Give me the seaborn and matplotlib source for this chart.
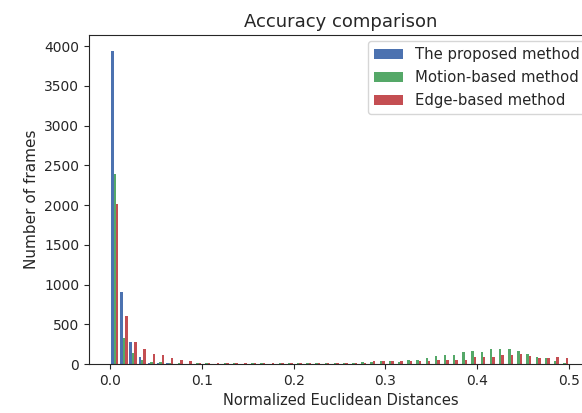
import numpy as np
import pandas as pd
import seaborn as sns
import matplotlib
matplotlib.use("Agg")
import matplotlib.pyplot as plt

# bin centres of the normalized euclidean distance histogram (bin width 0.01)
bin_centri = np.round(np.arange(50) * 0.01 + 0.005, 3)

metodi = ["The proposed method", "Motion-based method", "Edge-based method"]
colori = ["#4C72B0", "#55A868", "#C44E52"]

# frame counts per bin
conteggi_proposed = [3943, 907, 282, 85, 15, 18, 15, 0, 0, 0,
                     0, 0, 0, 0, 0, 0, 0, 0, 0, 0,
                     0, 0, 0, 0, 0, 0, 0, 0, 0, 0,
                     0, 0, 0, 0, 0, 0, 0, 0, 0, 0,
                     0, 0, 0, 0, 0, 0, 0, 0, 0, 0]
conteggi_motion = [2395, 330, 142, 46, 30, 21, 17, 8, 6, 8,
                   7, 6, 8, 7, 6, 8, 7, 6, 9, 8,
                   10, 14, 15, 17, 16, 18, 17, 20, 25, 38,
                   38, 30, 55, 55, 76, 95, 114, 114, 150, 168,
                   150, 189, 189, 189, 168, 130, 92, 74, 40, 17]
conteggi_edge = [2016, 605, 280, 185, 125, 110, 70, 48, 32, 17,
                 13, 17, 15, 18, 16, 17, 14, 18, 17, 16,
                 15, 14, 17, 16, 15, 17, 16, 18, 42, 38,
                 38, 38, 38, 34, 38, 55, 55, 52, 52, 92,
                 92, 85, 115, 115, 130, 105, 74, 74, 92, 74]

# dataframe in formato lungo per seaborn
df = pd.concat([
    pd.DataFrame({"distanza": bin_centri, "frames": conteggi, "metodo": nome})
    for nome, conteggi in zip(metodi, [conteggi_proposed, conteggi_motion, conteggi_edge])
], ignore_index=True)

sns.set_style("ticks")
plt.rcParams["font.family"] = ["DejaVu Sans"]

fig = plt.figure(figsize=(5.82, 4.13), dpi=100)
ax = fig.add_axes([0.153, 0.1186, 0.864, 0.7964])

sns.histplot(data=df, x="distanza", weights="frames", hue="metodo",
             hue_order=metodi, palette=colori, bins=50, binrange=(0, 0.5),
             multiple="dodge", shrink=0.8, alpha=1, linewidth=0, ax=ax)

ax.set_xlim(-0.023, 0.525)
ax.set_xticks([0.0, 0.1, 0.2, 0.3, 0.4, 0.5])
ax.set_yticks(range(0, 4001, 500))
ax.set_title("Accuracy comparison", fontsize=13)
ax.set_xlabel("Normalized Euclidean Distances", fontsize=10.5)
ax.set_ylabel("Number of frames", fontsize=11)
ax.tick_params(labelsize=10)
sns.move_legend(ax, "upper right", title=None, fontsize=10.7,
                labelspacing=0.55, borderaxespad=0.4)

fig.savefig("out.png", dpi=100)
